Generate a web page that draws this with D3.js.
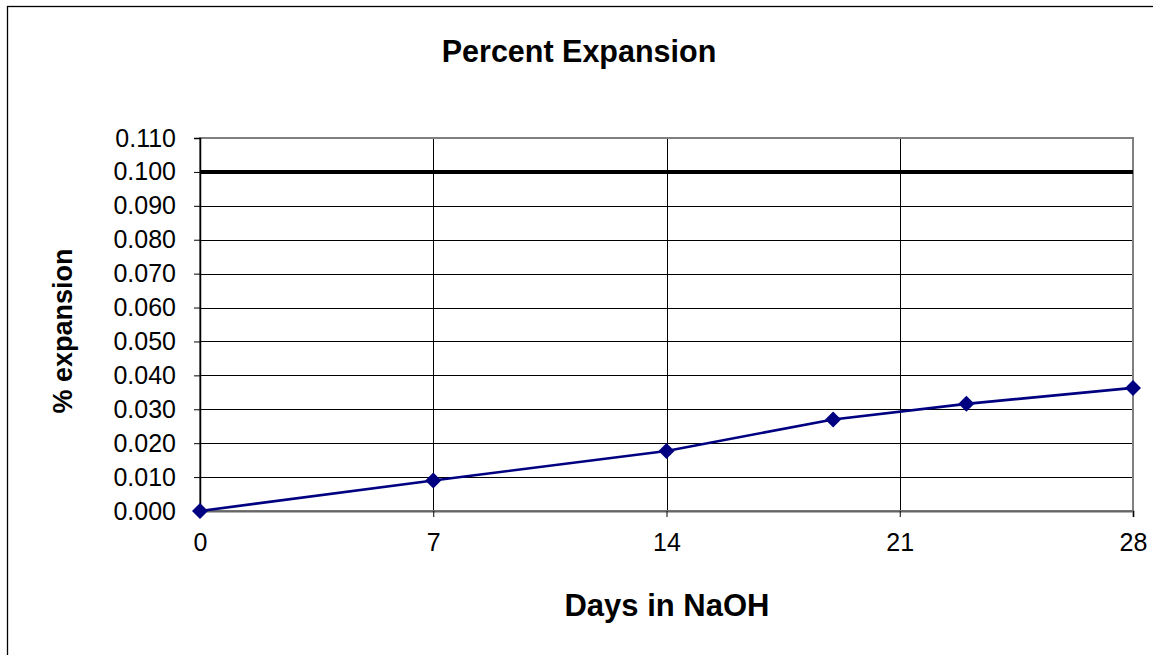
<!DOCTYPE html>
<html><head><meta charset="utf-8">
<script src="https://cdn.jsdelivr.net/npm/d3@7"></script>
<style>body{margin:0;background:#fff;}svg{display:block;font-family:"Liberation Sans",Arial,sans-serif;}</style>
</head><body>
<svg id="c" width="1153" height="655"></svg>
<script>
const days = [0, 7, 14, 19, 23, 28];
const expansion = [0.000, 0.009, 0.0177, 0.0270, 0.0316, 0.0363];
const limitValue = 0.100;
const xTicks = [0, 7, 14, 21, 28];
const yTicks = [0, 0.01, 0.02, 0.03, 0.04, 0.05, 0.06, 0.07, 0.08, 0.09, 0.10, 0.11];
const title = "Percent Expansion";
const xTitle = "Days in NaOH";
const yTitle = "% expansion";

const svg = d3.select("#c");
const L = 200, R = 1133, T = 138, B = 511;
const x = d3.scaleLinear().domain([0, 28]).range([L, R]);
const y = d3.scaleLinear().domain([0, 0.11]).range([B, T]);

// outer chart border (left & top visible)
svg.append("rect").attr("x", 7.5).attr("y", 6.5).attr("width", 1160).attr("height", 660)
  .attr("fill", "none").attr("stroke", "#000").attr("stroke-width", 1.3);

// gridlines
svg.append("g").selectAll("line").data(yTicks.slice(1)).join("line")
  .attr("x1", L).attr("x2", R).attr("y1", d => Math.round(y(d)) + 0.5).attr("y2", d => Math.round(y(d)) + 0.5)
  .attr("stroke", "#000").attr("stroke-width", 1);
svg.append("g").selectAll("line").data(xTicks.slice(1, -1)).join("line")
  .attr("y1", T).attr("y2", B).attr("x1", d => Math.round(x(d)) + 0.5).attr("x2", d => Math.round(x(d)) + 0.5)
  .attr("stroke", "#000").attr("stroke-width", 1);

// plot area border
svg.append("rect").attr("x", L).attr("y", T).attr("width", R - L).attr("height", B - T)
  .attr("fill", "none").attr("stroke", "#808080").attr("stroke-width", 2);

// axes
const yAxis = d3.axisLeft(y).tickValues(yTicks).tickFormat(d3.format(".3f")).tickSize(6).tickPadding(18);
const gy = svg.append("g").attr("transform", `translate(${L},0)`).call(yAxis);
const xAxis = d3.axisBottom(x).tickValues(xTicks).tickFormat(d3.format("d")).tickSize(6).tickPadding(16);
const gx = svg.append("g").attr("transform", `translate(0,${B})`).call(xAxis);
[gy, gx].forEach(g => {
  g.attr("font-size", null).attr("font-family", null);
  g.select(".domain").attr("stroke", "#000").attr("stroke-width", 1.5);
  g.selectAll(".tick line").attr("stroke", "#000");
  g.selectAll(".tick text").attr("fill", "#000").style("font-size", "25px");
});
gx.select(".domain").attr("stroke", "#666").attr("stroke-width", 2);

// limit line
svg.append("line").attr("x1", L).attr("x2", R).attr("y1", y(limitValue)).attr("y2", y(limitValue))
  .attr("stroke", "#000").attr("stroke-width", 4);

// series
const pts = days.map((d, i) => [d, expansion[i]]);
svg.append("path").datum(pts)
  .attr("d", d3.line().x(d => x(d[0])).y(d => y(d[1])))
  .attr("fill", "none").attr("stroke", "#000080").attr("stroke-width", 2.6);
svg.append("g").selectAll("path").data(pts).join("path")
  .attr("transform", d => `translate(${x(d[0])},${y(d[1])})`)
  .attr("d", "M0,-8L8,0L0,8L-8,0Z").attr("fill", "#000080");

// titles
svg.append("text").attr("x", 579).attr("y", 62).attr("text-anchor", "middle")
  .style("font-size", "30.5px").style("font-weight", "bold").text(title);
svg.append("text").attr("x", 667).attr("y", 616).attr("text-anchor", "middle")
  .style("font-size", "31px").style("font-weight", "bold").text(xTitle);
svg.append("text").attr("transform", "translate(72,331) rotate(-90)").attr("text-anchor", "middle")
  .style("font-size", "27px").style("font-weight", "bold").text(yTitle);
</script>
</body></html>
